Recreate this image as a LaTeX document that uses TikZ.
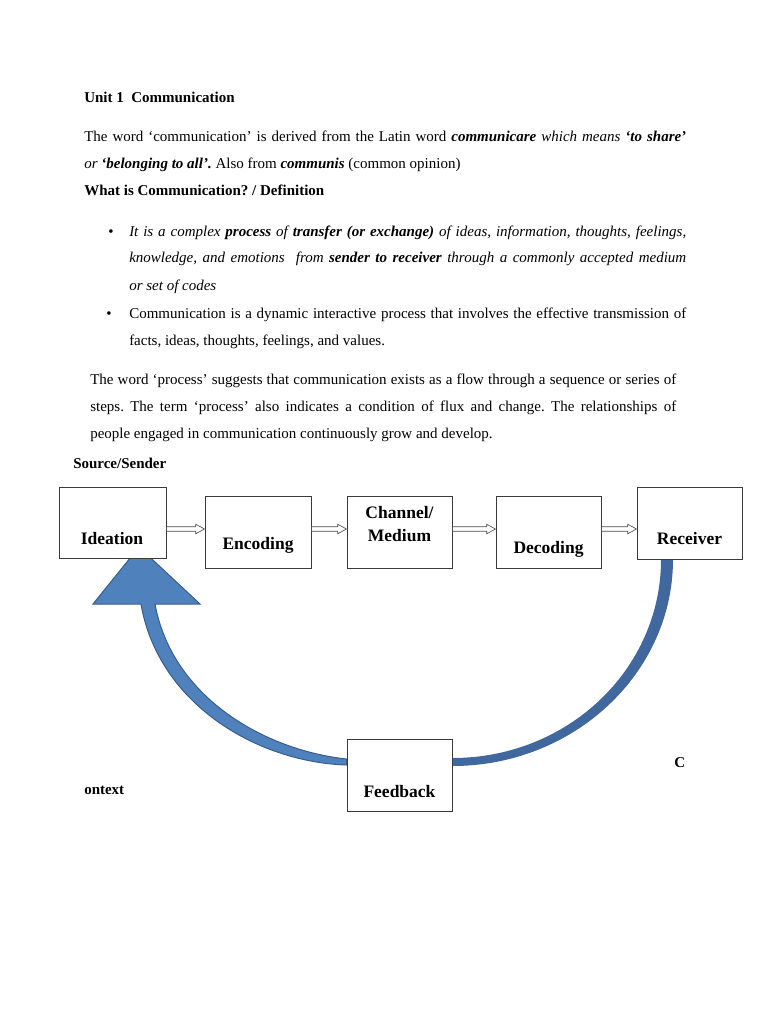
\documentclass[tikz,border=0pt]{standalone}
\usepackage{fontspec}
\setmainfont{Liberation Serif}
\usetikzlibrary{calc,backgrounds}
\frenchspacing

\definecolor{loopblue}{HTML}{4F81BD}
\definecolor{loopdark}{HTML}{40679E}
\definecolor{loopline}{HTML}{385D8A}
\definecolor{boxline}{HTML}{3A3A3A}

\newcommand{\pxu}{0.8pt}
\newcommand{\flowarrow}[2]{%
  \draw[hollow] let \p1=(#1.east), \p2=(#2.west), \p3=(flowrow) in
    (\x1,\y3+1.8pt) -- (\x2-7pt,\y3+1.8pt) -- (\x2-7pt,\y3+3.8pt) -- (\x2,\y3)
    -- (\x2-7pt,\y3-3.8pt) -- (\x2-7pt,\y3-1.8pt) -- (\x1,\y3-1.8pt) -- cycle;}

\tikzset{
  body/.style={anchor=base west, inner sep=0pt, font=\fontsize{12}{14}\selectfont},
  bodybold/.style={body, font=\fontsize{12}{14}\selectfont\bfseries},
  stage/.style={draw=boxline, fill=white, line width=0.8pt, inner sep=0pt},
  stagetext/.style={anchor=base, inner sep=0pt, font=\fontsize{14}{18.4}\selectfont\bfseries},
  hollow/.style={draw=black!70, fill=white, line width=0.5pt}
}

\begin{document}
\begin{tikzpicture}[x=0.8pt, y=-0.8pt]
            \useasboundingbox (0,0) rectangle (768,1024);
            % heading and text
            \node[bodybold] (title) at (84,103) {Unit 1\ \ Communication};
            \node[body] (intro-a) at (84,142) {\makebox[481.6pt][s]{The word ‘communication’ is derived from the Latin word \textbf{\textit{communicare}} \textit{which means} \textbf{\textit{‘to share’}}}};
            \node[body] (intro-b) at (84,169) {\textit{or} \textbf{\textit{‘belonging to all’.}} Also from \textbf{\textit{communis}} (common opinion)};
            \node[bodybold] (defhead) at (84,196) {What is Communication? / Definition};
            \node[body, anchor=base] (dot-a) at (111,236) {\textbullet};
            \node[body] (def-a) at (129,236) {\makebox[445.6pt][s]{\itshape It is a complex \textbf{process} of \textbf{transfer (or exchange)} of ideas, information, thoughts, feelings,}};
            \node[body] (def-b) at (129,263) {\makebox[445.6pt][s]{\itshape knowledge, and emotions\ \ from \textbf{sender to receiver} through a commonly accepted medium}};
            \node[body] (def-c) at (129,290) {\itshape or set of codes};
            \node[body, anchor=base] (dot-b) at (109,318) {\textbullet};
            \node[body] (def-d) at (129,318) {\makebox[445.6pt][s]{Communication is a dynamic interactive process that involves the effective transmission of}};
            \node[body] (def-e) at (129,345) {facts, ideas, thoughts, feelings, and values.};
            \node[body] (proc-a) at (90,384) {\makebox[468.8pt][s]{The word ‘process’ suggests that communication exists as a flow through a sequence or series of}};
            \node[body] (proc-b) at (90,411) {\makebox[468.8pt][s]{steps. The term ‘process’ also indicates a condition of flux and change. The relationships of}};
            \node[body] (proc-c) at (90,438) {people engaged in communication continuously grow and develop.};
            \node[bodybold] (source) at (73,468) {Source/Sender};
            \node[bodybold] (ctx-c) at (674,767) {C};
            \node[bodybold] (ctx-rest) at (84,794) {ontext};
            % stages
            \node[stage, minimum width=107*\pxu, minimum height=71*\pxu] (ideation) at (112.5,522.5) {};
            \node[stage, minimum width=106*\pxu, minimum height=72*\pxu] (encoding) at (258,532) {};
            \node[stage, minimum width=105*\pxu, minimum height=72*\pxu] (channel) at (399.5,532) {};
            \node[stage, minimum width=105*\pxu, minimum height=72*\pxu] (decoding) at (548.5,532) {};
            \node[stage, minimum width=105*\pxu, minimum height=72*\pxu] (receiver) at (689.5,523) {};
            \node[stage, minimum width=105*\pxu, minimum height=72*\pxu] (feedback) at (399.5,775) {};
            \node[stagetext] (ideation-t) at (112,544) {Ideation};
            \node[stagetext] (encoding-t) at (258,549) {Encoding};
            \node[stagetext, anchor=center, align=center] (channel-t) at (399.5,524) {Channel/\\Medium};
            \node[stagetext] (decoding-t) at (548.5,553) {Decoding};
            \node[stagetext] (receiver-t) at (689.5,544) {Receiver};
            \node[stagetext] (feedback-t) at (399.5,797) {Feedback};
            % flow arrows
            \coordinate (flowrow) at (0,529);
            \foreach \a/\b in {ideation/encoding, encoding/channel, channel/decoding, decoding/receiver}
                \flowarrow{\a}{\b};
            % feedback loop
            \begin{scope}[on background layer]
                \fill[loopdark] ([xshift=-16.5*\pxu]receiver.south) .. controls (673,673) and (574,766) .. ([yshift=9*\pxu]feedback.east)
                    -- ([yshift=17*\pxu]feedback.east) .. controls (568,758) and (661,669) .. ([xshift=-28.5*\pxu]receiver.south) -- cycle;
                \draw[fill=loopblue, draw=loopline, line width=0.8pt] (139,547) -- (200,604) -- (155,604)
                    .. controls (172,697) and (264,750) .. ([yshift=16*\pxu]feedback.west)
                    -- ([yshift=10*\pxu]feedback.west) .. controls (256,762) and (158,703) .. (141,604)
                    -- (93,604) -- cycle;
            \end{scope}
\end{tikzpicture}
\end{document}
